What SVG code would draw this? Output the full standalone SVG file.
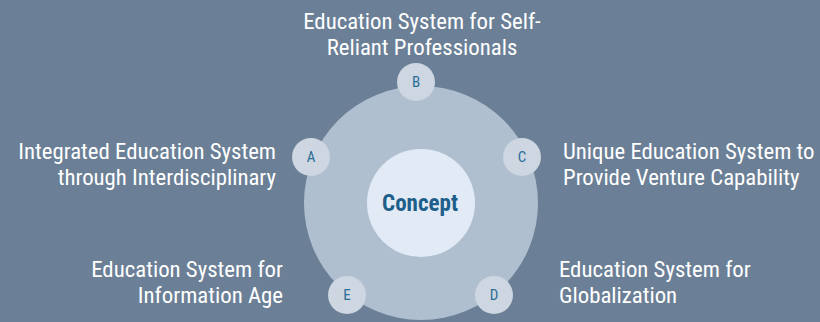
<svg xmlns="http://www.w3.org/2000/svg" width="820" height="322" viewBox="0 0 820 322">
<style>
.lbl{font-family:"Roboto Condensed","Liberation Sans Narrow","DejaVu Sans Condensed","Liberation Sans",sans-serif;font-size:22.8px;fill:#ffffff}
.dot{fill:#cdd6e1}
.let{font-family:"Roboto Condensed","Liberation Sans Narrow","Liberation Sans",sans-serif;font-size:15px;fill:#2b6e97;text-anchor:middle}
</style>
<rect width="820" height="322" fill="#6b8096"/>
<g id="connectors"></g>
<g id="ring"><circle cx="421" cy="203" r="117" fill="#b0bfd0"/></g>
<g id="concept"><circle cx="421" cy="203" r="54" fill="#e1eaf5"/>
<text x="420" y="211" font-family="Roboto Condensed,Liberation Sans Narrow,Liberation Sans,sans-serif" font-size="23" font-weight="bold" fill="#1d5f8a" text-anchor="middle">Concept</text></g>
<g id="nodeB"><circle class="dot" cx="416" cy="82" r="19"/><text class="let" x="416" y="87">B</text>
<text class="lbl" x="422" y="29" text-anchor="middle">Education System for Self-</text>
<text class="lbl" x="422" y="55" text-anchor="middle">Reliant Professionals</text></g>
<g id="nodeA"><circle class="dot" cx="311" cy="157" r="19"/><text class="let" x="311" y="162">A</text>
<text class="lbl" x="276" y="159" text-anchor="end">Integrated Education System</text>
<text class="lbl" x="276" y="185" text-anchor="end">through Interdisciplinary</text></g>
<g id="nodeC"><circle class="dot" cx="522" cy="157" r="19"/><text class="let" x="522" y="162">C</text>
<text class="lbl" x="563" y="159">Unique Education System to</text>
<text class="lbl" x="563" y="185">Provide Venture Capability</text></g>
<g id="nodeD"><circle class="dot" cx="494" cy="295" r="19"/><text class="let" x="494" y="300">D</text>
<text class="lbl" x="559" y="277">Education System for</text>
<text class="lbl" x="559" y="303">Globalization</text></g>
<g id="nodeE"><circle class="dot" cx="347" cy="295" r="19"/><text class="let" x="347" y="300">E</text>
<text class="lbl" x="283" y="277" text-anchor="end">Education System for</text>
<text class="lbl" x="283" y="303" text-anchor="end">Information Age</text></g>
</svg>
